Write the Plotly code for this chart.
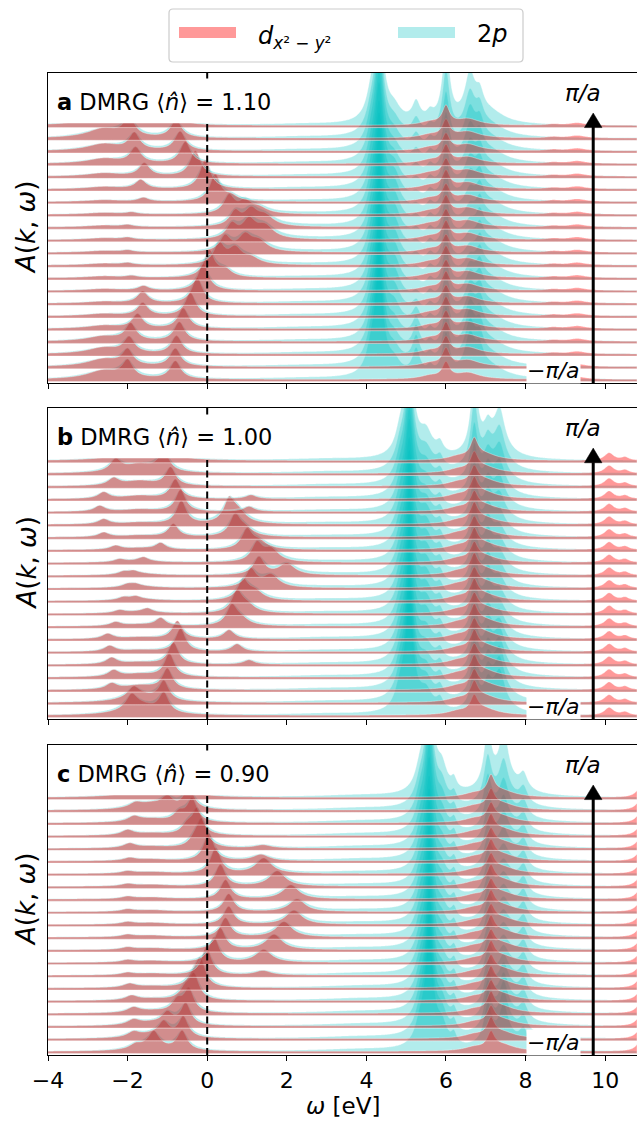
import numpy as np
import plotly.graph_objects as go

# energy grid [eV]
OMEGA = np.round(np.arange(-4.0, 10.8001, 0.02), 4)
N_K = 21                      # k from -pi/a (row 0) to +pi/a (row 20)
X_TICKS = [-4, -2, 0, 2, 4, 6, 8, 10]
FILLINGS = ["1.10", "1.00", "0.90"]
PANEL_TAGS = ["a", "b", "c"]

# ---------------- panel a : <n> = 1.10 ----------------
A_QP_POS = [-0.80, -0.80, -0.77, -0.70, -0.60, -0.42, -0.25, -0.10, 0.05, 0.30, 0.45,
            0.62, 0.70, 0.55, 0.20, -0.05, -0.30, -0.55, -0.68, -0.78, -0.83]
A_QP_AMP = [1.4, 1.4, 1.4, 1.5, 1.6, 1.8, 2.0, 2.1, 2.1, 1.6, 1.2,
            1.1, 1.1, 1.4, 2.1, 2.3, 2.0, 1.7, 1.5, 1.4, 1.4]
A_QP2_POS = [0, 0, 0, 0, 0, 0, 0, 0, 0.45, 0.70, 0.95, 1.05, 1.10, 0.95, 0.60, 0, 0, 0, 0, 0, 0]
A_QP2_AMP = [0, 0, 0, 0, 0, 0, 0, 0, 0.6, 1.2, 1.2, 1.4, 1.2, 0.9, 0.4, 0, 0, 0, 0, 0, 0]
A_QP3_POS = [0, 0, 0, 0, 0, 0, 0, 0, 0, 1.10, 1.30, 1.45, 1.45, 1.30, 0, 0, 0, 0, 0, 0, 0]
A_QP3_AMP = [0, 0, 0, 0, 0, 0, 0, 0, 0, 0.5, 0.8, 1.0, 0.8, 0.45, 0, 0, 0, 0, 0, 0, 0]
A_LHB_POS = [-2.00, -2.00, -1.96, -1.92, -1.75, -1.62, -1.62, -1.60, -1.90, -2.00, -2.00,
             -2.00, -2.00, -1.90, -1.60, -1.67, -1.58, -1.80, -1.83, -1.96, -2.00]
A_LHB_AMP = [1.3, 1.2, 1.2, 1.3, 1.1, 1.0, 0.9, 0.35, 0.15, 0.15, 0.15,
             0.15, 0.15, 0.15, 0.3, 0.7, 1.0, 1.2, 1.3, 1.5, 1.7]
A_INC_AMP = [0.7, 0.6, 0.5, 0.4, 0.25, 0.18, 0.14, 0.14, 0.14, 0.14, 0.14,
             0.14, 0.14, 0.14, 0.14, 0.18, 0.25, 0.4, 0.55, 0.75, 0.9]
A_D_HI_AMP = [1.2, 1.3, 1.2, 1.3, 1.2, 1.3, 1.2, 1.3, 1.2, 1.3, 1.2,
              1.3, 1.2, 1.3, 1.2, 1.3, 1.2, 1.3, 1.2, 1.3, 1.4]
A_P_MAIN_AMP = [8, 8, 8, 7.5, 7.5, 7, 7, 7, 7, 7, 7, 7, 7, 7, 7, 7.5, 7.5, 8, 8, 8, 8.5]
A_P_SH_AMP = [1.0, 1.0, 1.0, 1.2, 1.5, 1.8, 2.0, 2.0, 2.0, 2.0, 2.0,
              2.0, 2.0, 2.0, 1.8, 1.5, 1.2, 1.0, 1.0, 1.0, 1.0]
A_P_SIDE_AMP = [2.0, 2.0, 1.8, 1.5, 1.2, 0.8, 0.5, 0.4, 0.4, 0.5, 0.5,
                0.5, 0.5, 0.4, 0.4, 0.5, 0.6, 0.8, 1.0, 1.2, 1.5]
A_P_60_AMP = [3.2, 3.2, 3.2, 3.2, 3.0, 3.0, 3.0, 3.0, 3.0, 3.0, 3.0,
              3.0, 3.0, 3.0, 3.0, 3.0, 3.2, 3.6, 4.2, 5.0, 6.0]
A_P_66_AMP = [3.0, 3.0, 2.8, 2.5, 2.2, 2.0, 1.8, 1.5, 1.2, 1.0, 1.0,
              1.0, 1.2, 1.5, 1.8, 2.0, 2.2, 2.5, 2.8, 3.0, 3.5]

# ---------------- panel b : <n> = 1.00 ----------------
B_LB_POS = [-1.09, -1.09, -1.00, -0.95, -0.85, -0.67, -0.75, -1.17, -1.50, -1.80, -1.80,
            -1.85, -1.60, -1.17, -0.85, -0.65, -0.67, -0.80, -0.92, -1.09, -1.09]
B_LB_AMP = [1.5, 1.5, 1.6, 1.8, 1.7, 1.8, 1.4, 0.6, 0.3, 0.22, 0.18,
            0.22, 0.3, 0.5, 1.0, 1.8, 1.7, 1.5, 1.4, 1.6, 1.8]
B_LB2_POS = [-1.90, -1.85, -2.40, -2.35, -2.40, -2.45, -2.50, -2.30, -2.20, -2.10, -2.00,
             -2.10, -2.20, -2.30, -2.60, -2.60, -2.70, -2.60, -2.35, -2.30, -1.80]
B_LB2_AMP = [1.0, 0.7, 0.45, 0.5, 0.5, 0.45, 0.4, 0.3, 0.22, 0.22, 0.22,
             0.22, 0.22, 0.3, 0.35, 0.4, 0.45, 0.5, 0.55, 0.9, 1.0]
B_INC_AMP = [0.8, 0.6, 0.35, 0.25, 0.18, 0.14, 0.14, 0.14, 0.14, 0.14, 0.14,
             0.14, 0.14, 0.14, 0.14, 0.14, 0.18, 0.25, 0.4, 0.7, 0.9]
B_UB_POS = [0, 0, 0, 0, 1.05, 0.75, 0.55, 0.62, 0.75, 0.90, 1.10,
            1.30, 1.25, 1.00, 0.70, 0.55, 1.05, 1.10, 0, 0, 0]
B_UB_AMP = [0, 0, 0, 0, 0.35, 0.6, 0.7, 1.5, 1.6, 1.5, 1.4,
            1.4, 1.4, 1.5, 1.6, 1.7, 0.4, 0.3, 0, 0, 0]
B_UB2_POS = [0, 0, 0, 0, 0, 0, 0, 0.85, 1.00, 1.20, 1.60,
             2.00, 1.60, 1.30, 0.95, 0.78, 0, 0, 0, 0, 0]
B_UB2_AMP = [0, 0, 0, 0, 0, 0, 0, 0.5, 0.6, 0.7, 1.0,
             0.9, 1.0, 0.6, 0.6, 0.9, 0, 0, 0, 0, 0]
B_D_HI_AMP = [1.2, 1.3, 1.2, 1.3, 1.2, 1.3, 1.2, 1.3, 1.2, 1.3, 1.2,
              1.3, 1.2, 1.3, 1.2, 1.3, 1.2, 1.3, 1.2, 1.3, 1.4]
B_P_MAIN_AMP = [8, 8, 8, 7.5, 7.5, 7, 7, 7, 7, 7, 7, 7, 7, 7, 7, 7.5, 7.5, 8, 8, 8, 8.5]
B_P_SIDE_AMP = [1.5, 1.5, 1.4, 1.2, 1.2, 1.5, 1.8, 1.8, 1.8, 1.8, 1.8,
                1.8, 1.8, 1.8, 1.8, 1.5, 1.2, 1.2, 1.4, 1.5, 1.8]
B_P_67_AMP = [3.2, 3.2, 3.2, 3.2, 3.0, 3.0, 3.0, 3.0, 3.0, 3.0, 3.0,
              3.0, 3.0, 3.0, 3.0, 3.0, 3.2, 3.6, 4.2, 5.0, 6.0]
B_P_73_AMP = [2.5, 2.5, 2.3, 2.0, 1.8, 1.5, 1.2, 1.0, 1.0, 1.0, 1.0,
              1.0, 1.0, 1.0, 1.2, 1.5, 1.8, 2.0, 2.3, 2.6, 3.0]

# ---------------- panel c : <n> = 0.90 ----------------
C_QP_POS = [-0.63, -0.60, -0.54, -0.46, -0.33, -0.17, -0.02, 0.17, 0.33, 0.46, 0.54,
            0.54, 0.46, 0.33, 0.21, 0.04, -0.13, -0.25, -0.38, -0.46, -0.54]
C_QP_AMP = [1.5, 1.6, 1.7, 1.8, 1.9, 2.1, 2.2, 2.0, 1.7, 1.5, 1.4,
            1.4, 1.5, 1.7, 2.0, 2.2, 2.1, 2.0, 1.8, 1.7, 1.6]
C_SB_POS = [-1.34, -1.09, -1.00, -0.75, -0.55, -0.35, 0, 0, 0, 0, 0,
            0, 0, 0, 0, 0, -0.30, -0.50, -0.70, -1.00, -1.09]
C_SB_AMP = [1.2, 1.1, 0.9, 0.9, 0.8, 0.7, 0, 0, 0, 0, 0,
            0, 0, 0, 0, 0, 0.6, 0.7, 0.7, 0.8, 1.1]
C_LB_POS = [-1.80, -1.85, -1.85, -1.85, -1.90, -1.95, -2.00, -2.00, -2.00, -2.00, -2.00,
            -2.00, -2.00, -2.00, -2.00, -1.95, -1.95, -2.00, -1.84, -1.80, -1.75]
C_LB_AMP = [0.35, 0.4, 0.4, 0.4, 0.35, 0.3, 0.18, 0.18, 0.18, 0.18, 0.18,
            0.18, 0.18, 0.18, 0.18, 0.22, 0.35, 0.4, 0.4, 0.35, 0.35]
C_INC_AMP = [0.35, 0.3, 0.25, 0.18, 0.14, 0.14, 0.14, 0.14, 0.14, 0.14, 0.14,
             0.14, 0.14, 0.14, 0.14, 0.14, 0.14, 0.18, 0.3, 0.5, 0.8]
C_UB_POS = [0, 0, 0, 0, 0, 0, 1.40, 1.42, 1.68, 1.93, 2.18,
            2.26, 2.10, 1.76, 1.42, 1.35, 1.40, 0, 0, 0, 0]
C_UB_AMP = [0, 0, 0, 0, 0, 0, 0.35, 1.0, 1.2, 1.2, 1.1,
            1.0, 1.1, 1.2, 1.2, 0.5, 0.25, 0, 0, 0, 0]
C_D_HI_AMP = [1.2, 1.3, 1.2, 1.3, 1.2, 1.3, 1.2, 1.3, 1.2, 1.3, 1.2,
              1.3, 1.2, 1.3, 1.2, 1.3, 1.2, 1.3, 1.2, 1.3, 1.4]
C_P_MAIN_AMP = [8, 8, 8, 7.5, 7.5, 7, 7, 7, 7, 7, 7, 7, 7, 7, 7, 7.5, 7.5, 8, 8, 8, 8.5]
C_P_SIDE_AMP = [1.5, 1.5, 1.4, 1.2, 1.2, 1.0, 1.0, 1.0, 1.0, 1.0, 1.0,
                1.0, 1.0, 1.0, 1.0, 1.0, 1.2, 1.2, 1.4, 1.5, 1.8]
C_P_71_AMP = [3.0, 3.0, 2.8, 2.6, 2.4, 2.2, 2.2, 2.2, 2.2, 2.2, 2.2,
              2.2, 2.2, 2.2, 2.2, 2.2, 2.4, 2.6, 3.0, 3.5, 4.5]
C_P_75_AMP = [2.5, 2.5, 2.3, 2.0, 1.8, 1.5, 1.2, 1.0, 1.0, 1.0, 1.0,
              1.0, 1.0, 1.0, 1.2, 1.5, 1.8, 2.0, 2.3, 2.8, 4.0]

P_ON_D = 0.95      # 2p weight carried by the low-energy d bands

# feature lists: (centre [eV], height, half width [eV])
D_LOW = [
    [(A_QP_POS, A_QP_AMP, 0.16), (A_QP2_POS, A_QP2_AMP, 0.2), (A_QP3_POS, A_QP3_AMP, 0.26),
     (A_LHB_POS, A_LHB_AMP, 0.16), (-2.6, A_INC_AMP, 0.5)],
    [(B_LB_POS, B_LB_AMP, 0.15), (B_LB2_POS, B_LB2_AMP, 0.16), (-1.7, B_INC_AMP, 0.5),
     (B_UB_POS, B_UB_AMP, 0.16), (B_UB2_POS, B_UB2_AMP, 0.24)],
    [(C_QP_POS, C_QP_AMP, 0.15), (C_SB_POS, C_SB_AMP, 0.16), (C_LB_POS, C_LB_AMP, 0.18),
     (-1.4, C_INC_AMP, 0.5), (C_UB_POS, C_UB_AMP, 0.24)],
]
D_HIGH = [
    [(6.00, A_D_HI_AMP, 0.11), (6.55, 0.5, 0.35), (5.60, 0.25, 0.3), (9.30, 0.2, 0.25),
     (8.70, 0.1, 0.2)],
    [(6.71, B_D_HI_AMP, 0.11), (6.95, 0.5, 0.40), (6.30, 0.25, 0.3), (10.10, 0.60, 0.14),
     (10.50, 0.25, 0.12)],
    [(7.13, C_D_HI_AMP, 0.11), (7.40, 0.5, 0.40), (6.70, 0.25, 0.3), (10.90, 0.80, 0.14)],
]
P_HIGH = [
    [(2.40, 0.10, 1.20), (4.32, A_P_MAIN_AMP, 0.13), (4.12, 1.5, 0.15), (4.70, A_P_SH_AMP, 0.20),
     (5.25, A_P_SIDE_AMP, 0.12), (5.60, 0.6, 0.10), (6.00, A_P_60_AMP, 0.11),
     (6.60, A_P_66_AMP, 0.16), (6.85, 1.5, 0.12), (7.10, 0.9, 0.45)],
    [(3.00, 0.12, 1.20), (5.08, B_P_MAIN_AMP, 0.13), (4.85, 1.5, 0.15), (5.50, B_P_SIDE_AMP, 0.20),
     (5.85, 0.8, 0.10), (6.71, B_P_67_AMP, 0.11), (7.05, 1.5, 0.12), (7.35, B_P_73_AMP, 0.16),
     (7.20, 0.9, 0.45)],
    [(3.80, 0.15, 1.20), (5.58, C_P_MAIN_AMP, 0.13), (5.35, 1.5, 0.15), (5.90, C_P_SIDE_AMP, 0.15),
     (6.20, 0.8, 0.08), (7.05, C_P_71_AMP, 0.12), (7.45, C_P_75_AMP, 0.14),
     (7.95, 1.2, 0.12), (7.50, 0.9, 0.50)],
]

FLOOR = 0.16       # small constant weight kept by the broadened spectra
Y_MIN, Y_MAX = -0.12, 24.3
RED_FILL = "rgba(255,0,0,0.4)"
CYAN_FILL = "rgba(0,191,191,0.3)"
EDGE = "rgba(255,255,255,0.45)"
FONT = "DejaVu Sans"
FIG_W, FIG_H, LEFT = 637, 1126, 48
PANEL_PX = [(73, 383), (408, 719), (745, 1055)]   # top / bottom of each panel in pixels


def lorentz(centre, height, hwhm):
    return height * hwhm ** 2 / ((OMEGA - centre) ** 2 + hwhm ** 2)


def spectrum(features, k, scale=1.0, widen=1.0):
    out = np.zeros_like(OMEGA)
    for pos, amp, g in features:
        c = pos[k] if np.ndim(pos) else pos
        h = amp[k] if np.ndim(amp) else amp
        if h > 0:
            out += lorentz(c, h * scale, g * widen)
    return out


def band(offset, values):
    xs = np.concatenate([OMEGA, OMEGA[::-1]])
    ys = np.concatenate([offset + FLOOR + values, np.full(OMEGA.size, float(offset))])
    return xs, ys


def px_x(px):
    return (px - LEFT) / (FIG_W - LEFT)


def px_y(py):
    return 1 - py / FIG_H


fig = go.Figure()
layout = {}
shapes = []
annotations = []


def note(**kw):
    kw.setdefault("showarrow", False)
    kw.setdefault("xanchor", "center")
    kw.setdefault("yanchor", "middle")
    annotations.append(kw)


for p in range(3):
    xa = "x" if p == 0 else f"x{p + 1}"
    ya = "y" if p == 0 else f"y{p + 1}"
    for k in range(N_K):
        p_low = spectrum(D_LOW[p], k, scale=P_ON_D, widen=1.25)
        a_d = spectrum(D_LOW[p], k) + spectrum(D_HIGH[p], k)
        a_p = p_low + spectrum(P_HIGH[p], k)
        for vals, col in ((a_p, CYAN_FILL), (a_d, RED_FILL)):
            xs, ys = band(k, vals)
            fig.add_trace(go.Scatter(
                x=xs, y=ys, xaxis=xa, yaxis=ya, mode="lines", fill="toself",
                fillcolor=col, line=dict(color=EDGE, width=0.8, simplify=False),
                hoverinfo="skip", showlegend=False))

    top, bot = PANEL_PX[p]
    layout[f"xaxis{'' if p == 0 else p + 1}"] = dict(
        domain=[0, 1], anchor=ya, range=[-4, 10.8], tickvals=X_TICKS,
        ticktext=[("−" if v < 0 else "") + str(abs(v)) for v in X_TICKS],
        showticklabels=(p == 2), ticks="outside", ticklen=5, tickwidth=1.2,
        tickcolor="black", showline=True, linecolor="black", linewidth=1.3,
        mirror=True, showgrid=False, zeroline=False, automargin=False,
        tickfont=dict(family=FONT, size=22, color="black"))
    layout[f"yaxis{'' if p == 0 else p + 1}"] = dict(
        domain=[px_y(bot), px_y(top)], anchor=xa, range=[Y_MIN, Y_MAX],
        showticklabels=False, ticks="", showline=True, linecolor="black",
        linewidth=1.3, showgrid=False, zeroline=False, automargin=False)

    # Fermi level
    shapes.append(dict(type="line", xref=xa, yref=f"{ya} domain", x0=0, x1=0, y0=0, y1=1,
                       line=dict(color="black", width=2, dash="7px,3.5px"), layer="above"))
    # white box behind the panel label
    shapes.append(dict(type="rect", xref=xa, yref=ya, x0=-3.97, x1=1.9, y0=20.35, y1=23.65,
                       fillcolor="white", line=dict(width=0), layer="above"))
    # k-direction arrow
    shapes.append(dict(type="line", xref=xa, yref=ya, x0=9.7, x1=9.7, y0=Y_MIN, y1=20.05,
                       line=dict(color="black", width=3), layer="above"))
    shapes.append(dict(type="path", xref=xa, yref=ya,
                       path="M 9.48,20.0 L 9.92,20.0 L 9.7,21.15 Z",
                       fillcolor="black", line=dict(color="black", width=0.5), layer="above"))

    note(xref=xa, yref=ya, x=-3.82, y=22.0, xanchor="left",
         text=f"<b>{PANEL_TAGS[p]}</b> DMRG ⟨<i>n̂</i>⟩ = {FILLINGS[p]}",
         font=dict(family=FONT, size=22.5, color="black"))
    note(xref=xa, yref=ya, x=9.44, y=22.75, text="<i>π/a</i>",
         font=dict(family=FONT, size=23, color="black"))
    note(xref=xa, yref=ya, x=8.69, y=0.85, text="−<i>π/a</i>",
         bgcolor="white", borderpad=0, font=dict(family=FONT, size=22, color="black"))
    note(xref="paper", yref="paper", x=px_x(26), y=px_y((top + bot) / 2), textangle=-90,
         text="<i>A</i>(<i>k</i>, <i>ω</i>)", font=dict(family=FONT, size=26, color="black"))

note(xref="paper", yref="paper", x=0.5, y=px_y(1106),
     text="<i>ω</i> [eV]", font=dict(family=FONT, size=23, color="black"))

# legend
L0, L1, T0, T1, R = 169, 523, 9, 62, 4
legend_path = (f"M {L0 + R},{T0} L {L1 - R},{T0} Q {L1},{T0} {L1},{T0 + R} "
               f"L {L1},{T1 - R} Q {L1},{T1} {L1 - R},{T1} L {L0 + R},{T1} "
               f"Q {L0},{T1} {L0},{T1 - R} L {L0},{T0 + R} Q {L0},{T0} {L0 + R},{T0} Z")


def path_to_paper(path):
    out = []
    for t in path.split():
        if "," in t:
            a, b = t.split(",")
            out.append(f"{px_x(float(a)):.5f},{px_y(float(b)):.5f}")
        else:
            out.append(t)
    return " ".join(out)


shapes.append(dict(type="path", xref="paper", yref="paper", path=path_to_paper(legend_path),
                   fillcolor="white", line=dict(color="#cccccc", width=1.2), layer="above"))
for (xa0, xa1), col in (((179, 236), RED_FILL), ((398, 455), CYAN_FILL)):
    shapes.append(dict(type="rect", xref="paper", yref="paper", x0=px_x(xa0), x1=px_x(xa1),
                       y0=px_y(38), y1=px_y(27), fillcolor=col, line=dict(width=0),
                       layer="above"))
note(xref="paper", yref="paper", x=px_x(256), y=px_y(37), xanchor="left",
     text="<i>d</i><sub><i>x</i>² − <i>y</i>²</sub>", font=dict(family=FONT, size=24, color="black"))
note(xref="paper", yref="paper", x=px_x(475), y=px_y(34), xanchor="left",
     text="2<i>p</i>", font=dict(family=FONT, size=24, color="black"))

fig.update_layout(
    width=FIG_W, height=FIG_H, margin=dict(l=LEFT, r=0, t=0, b=0, autoexpand=False),
    paper_bgcolor="white", plot_bgcolor="white", showlegend=False,
    shapes=shapes, annotations=annotations, **layout)

fig.write_html("out.html")
